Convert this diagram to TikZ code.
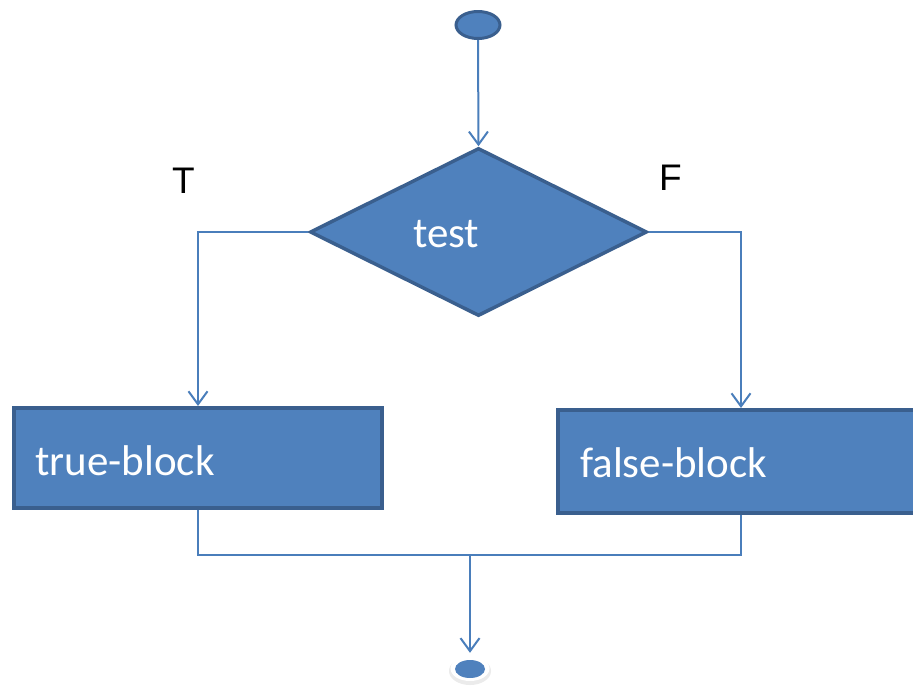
\documentclass[tikz,border=0pt]{standalone}
\usepackage{fontspec}
\setmainfont{Carlito}
\newfontfamily\labelfont{Liberation Sans}
\usetikzlibrary{shapes.geometric,arrows.meta}
\definecolor{boxfill}{HTML}{4F81BD}
\definecolor{boxedge}{HTML}{3A5F8E}
\definecolor{wire}{HTML}{4A7EBB}
\tikzset{
  flowbox/.style={rectangle, fill=boxfill, draw=boxedge, line width=4pt, inner sep=0pt},
  decision/.style={diamond, fill=boxfill, draw=boxedge, line width=3.5pt, inner sep=0pt},
  terminal/.style={ellipse, fill=boxfill, inner sep=0pt},
  boxtext/.style={text=white, font=\fontsize{43}{48}\selectfont, inner sep=0pt, anchor=base west},
  branchtext/.style={text=black, font=\labelfont\fontsize{37}{42}\selectfont, inner sep=0pt, anchor=base west},
  wireline/.style={draw=wire, line width=2pt, -{Straight Barb[length=13pt,width=19pt,line width=2pt]}},
  plainwire/.style={draw=wire, line width=2pt},
}
\begin{document}
\begin{tikzpicture}[x=1pt,y=-1pt]
  \useasboundingbox (0,0) rectangle (913,689);
  \clip (0,0) rectangle (913,689);
  \fill[white] (0,0) rectangle (913,689);

  % start terminal
  \node[terminal, draw=boxedge, line width=3pt, minimum width=44pt, minimum height=27pt] (start) at (478,25) {};

  % decision
  \node[decision, minimum width=337pt, minimum height=168pt] (test) at (478.5,232) {};
  \node[boxtext] (testlbl) at (413,247) {test};

  % branch labels
  \node[branchtext] (tlbl) at (172,193) {T};
  \node[branchtext] (flbl) at (659,190) {F};

  % process blocks (the right one runs past the page edge)
  \node[flowbox, minimum width=368pt, minimum height=100pt] (tb) at (198,458) {};
  \node[boxtext] (tbl) at (35,475) {true-block};
  \node[flowbox, minimum width=500pt, minimum height=103pt] (fb) at (808,461.5) {};
  \node[boxtext] (fbl) at (580,477) {false-block};
  \coordinate (fbin)  at ([xshift=185pt]fb.north west);
  \coordinate (fbout) at ([xshift=185pt]fb.south west);

  % end terminal with soft halo
  \fill[black!8] (470,671) ellipse [x radius=21pt, y radius=14pt];
  \fill[white] (470,668.5) ellipse [x radius=19.5pt, y radius=12.5pt];
  \node[terminal, minimum width=30pt, minimum height=18pt] (stop) at (470,669) {};
  \coordinate (join) at (470,555);

  % connectors
  \draw[wireline] (start.south) -- (test.north);
  \draw[wireline] (test.west) -| (tb.north);
  \draw[wireline] (test.east) -| (fbin);
  \draw[plainwire] (tb.south) |- (join) -| (fbout);
  \draw[wireline, shorten >=7pt] (join) -- (stop.north);
\end{tikzpicture}
\end{document}
